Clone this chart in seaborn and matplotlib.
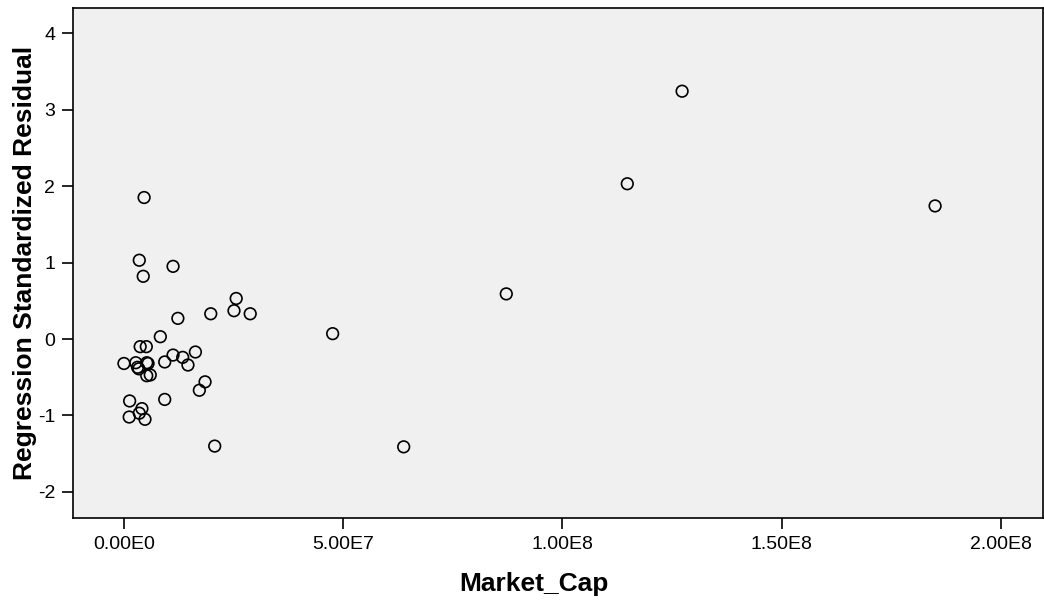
import seaborn as sns
import pandas as pd
import numpy as np
import matplotlib.pyplot as plt

# values
market_cap = [12.73e7, 11.48e7, 18.5e7, 8.72e7, 4.76e7, 6.38e7, 2.07e7,
              0.46e7, 0.35e7, 0.44e7, 1.12e7, 2.56e7, 2.51e7, 2.88e7, 1.98e7,
              1.23e7, 0.83e7, 0.37e7, 0.51e7, 0.0e7, 0.27e7, 0.31e7, 0.34e7,
              0.55e7, 0.52e7, 0.52e7, 0.60e7, 0.93e7, 1.12e7, 1.34e7, 1.46e7,
              1.63e7, 1.85e7, 1.72e7, 0.93e7, 0.13e7, 0.41e7, 0.35e7, 0.12e7,
              0.48e7]
std_resid = [3.24, 2.03, 1.74, 0.59, 0.07, -1.41, -1.40,
             1.85, 1.03, 0.82, 0.95, 0.53, 0.37, 0.33, 0.33,
             0.27, 0.03, -0.10, -0.10, -0.32, -0.31, -0.37, -0.39,
             -0.32, -0.31, -0.48, -0.47, -0.30, -0.21, -0.24, -0.34,
             -0.17, -0.56, -0.67, -0.79, -0.81, -0.91, -0.97, -1.02,
             -1.05]
x_ticks = [0, 5e7, 1e8, 1.5e8, 2e8]
x_tick_labels = ['0.00E0', '5.00E7', '1.00E8', '1.50E8', '2.00E8']
y_ticks = [-2, -1, 0, 1, 2, 3, 4]

df = pd.DataFrame({'Market_Cap': market_cap, 'Resid': std_resid})

sns.set_style('ticks')
plt.rcParams['font.family'] = ['Liberation Sans', 'DejaVu Sans']
plt.rcParams['axes.unicode_minus'] = False
plt.rcParams['text.color'] = 'black'
plt.rcParams['axes.labelcolor'] = 'black'
plt.rcParams['xtick.color'] = 'black'
plt.rcParams['ytick.color'] = 'black'

fig = plt.figure(figsize=(10.44, 6.03), dpi=100)
ax = fig.add_axes([0.07, 0.141, 0.929, 0.846])
ax.set_facecolor('#f0f0f0')

sns.scatterplot(data=df, x='Market_Cap', y='Resid', ax=ax, s=70,
                facecolor='none', edgecolor='black', linewidth=1.2)

ax.set_xlim(-1.16e7, 2.096e8)
ax.set_ylim(-2.34, 4.33)
ax.set_xticks(x_ticks)
ax.set_xticklabels(x_tick_labels)
ax.set_yticks(y_ticks)
ax.tick_params(axis='both', labelsize=14, length=8, width=1.2, color='black', pad=5)
for sp in ax.spines.values():
    sp.set_visible(True)
    sp.set_linewidth(1.2)
    sp.set_color('black')

ax.set_xlabel('Market_Cap', fontsize=19, fontweight='bold')
ax.set_ylabel('Regression Standardized Residual', fontsize=19, fontweight='bold')
ax.xaxis.set_label_coords(0.475, -0.105)
ax.yaxis.set_label_coords(-0.037, 0.5)

plt.savefig('out.png', dpi=100)
